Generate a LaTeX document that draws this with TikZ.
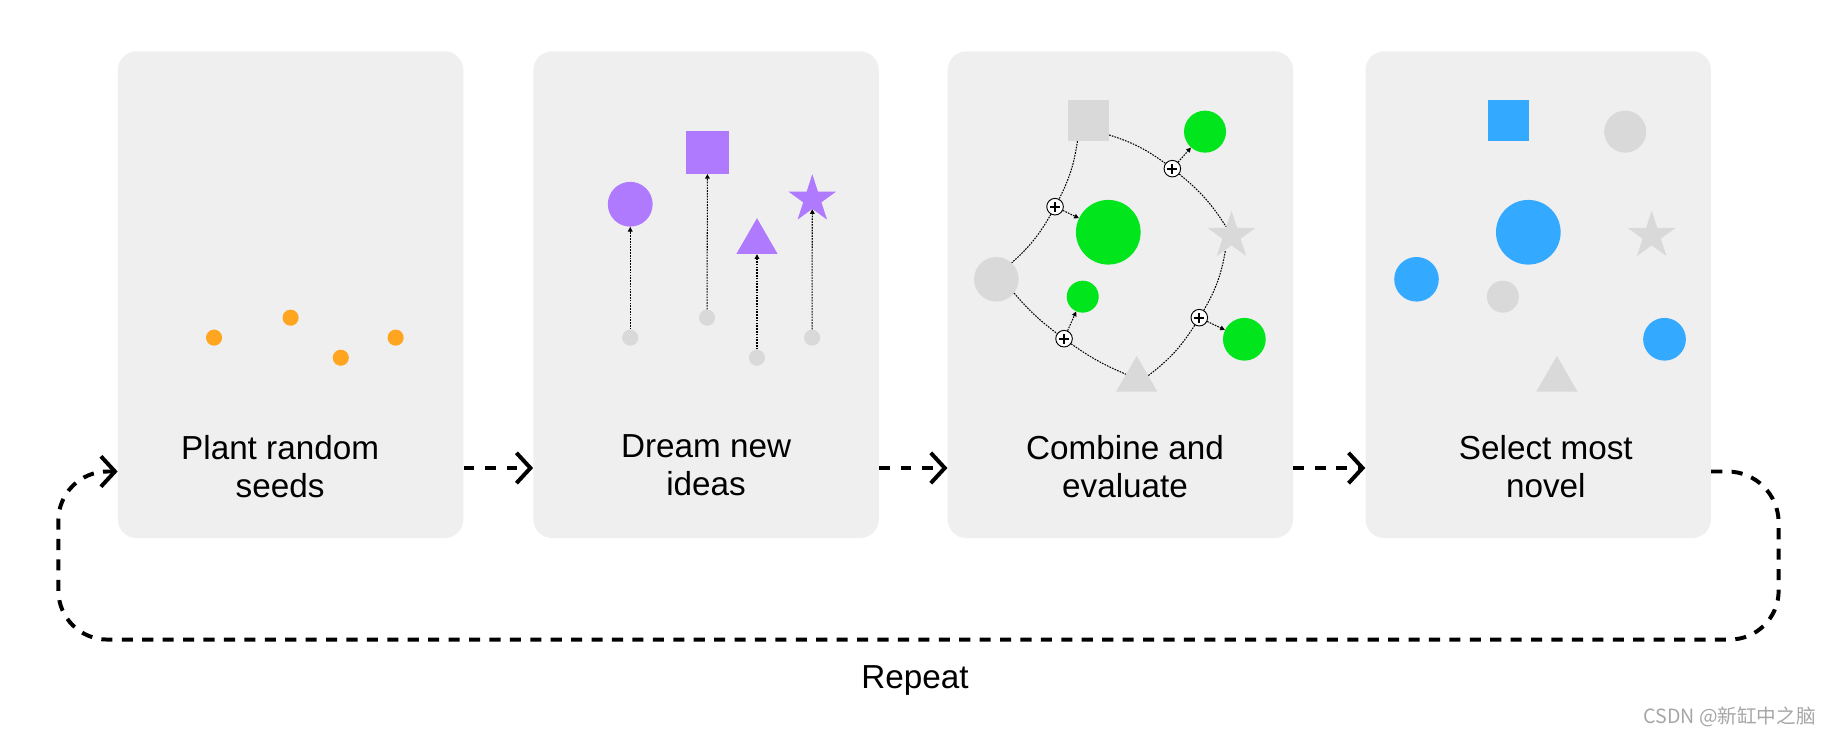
\documentclass[tikz,border=0pt]{standalone}
\usepackage{fontspec}
\setmainfont{Liberation Sans}
\newfontfamily\cjkfont{Noto Sans CJK SC}
\usetikzlibrary{arrows.meta,shapes.geometric}

\definecolor{panelgrey}{HTML}{EFEFEF}
\definecolor{shapegrey}{HTML}{D9D9D9}
\definecolor{seedorange}{HTML}{FFA520}
\definecolor{dreampurple}{HTML}{B07AFF}
\definecolor{keepgreen}{HTML}{00E51B}
\definecolor{novelblue}{HTML}{33AAFF}

\tikzset{
  panel/.style={fill=panelgrey, rounded corners=16pt, minimum width=296pt, minimum height=417pt, inner sep=0pt},
  caption/.style={font=\fontsize{28.5}{32.5}\selectfont, align=center, anchor=north, inner sep=0pt},
  dot/.style={circle, fill=#1, minimum size=13.8pt, inner sep=0pt},
  ball/.style 2 args={circle, fill=#1, minimum size=#2, inner sep=0pt},
  box/.style 2 args={fill=#1, minimum size=#2, inner sep=0pt},
  tri/.style={regular polygon, regular polygon sides=3, fill=#1, minimum size=40.9pt, inner sep=0pt},
  starry/.style={star, star points=5, star point ratio=2.618, fill=#1, minimum size=43pt, inner sep=0pt},
  flow/.style={line width=3.4pt, dash pattern=on 9.2pt off 9.2pt, -{Straight Barb[length=12pt,width=26pt]}},
  loopline/.style={line width=3.4pt, dash pattern=on 9.5pt off 8pt, -{Straight Barb[length=12pt,width=26pt]}},
  link/.style={line width=0.9pt, dash pattern=on 1.4pt off 1pt},
  sprout/.style={link, -{Triangle[length=4pt,width=4pt]}},
  plus/.style={circle, draw, fill=white, line width=0.8pt, minimum size=14.2pt, inner sep=0pt,
    path picture={\draw[line width=1.5pt]
      ([xshift=-4.3pt]path picture bounding box.center) -- ([xshift=4.3pt]path picture bounding box.center)
      ([yshift=-4.3pt]path picture bounding box.center) -- ([yshift=4.3pt]path picture bounding box.center);}}
}

\begin{document}
\begin{tikzpicture}[x=1pt,y=1pt]
  \useasboundingbox (0,0) rectangle (1568,-631);

  % the four stages
  \node[panel] (plant) at (249,-252.5) {};
  \node[panel] (dream) at (605,-252.5) {};
  \node[panel] (combine) at (960,-252.5) {};
  \node[panel] (select) at (1318,-252.5) {};

  \node[caption] (plantText) at (240,-372.5) {Plant random\\seeds};
  \node[caption] (dreamText) at (605,-372.5) {Dream new\\ideas};
  \node[caption] (combineText) at (964,-372.5) {Combine and\\evaluate};
  \node[caption] (selectText) at (1324.5,-372.5) {Select most\\novel};

  % seeds
  \node[dot=seedorange] (s1) at (183.4,-289.3) {};
  \node[dot=seedorange] (s2) at (249,-272.2) {};
  \node[dot=seedorange] (s3) at (292,-306.5) {};
  \node[dot=seedorange] (s4) at (339,-289.3) {};

  % dreamed ideas
  \node[dot=shapegrey] (d1) at (540,-289.3) {};
  \node[dot=shapegrey] (d2) at (605.8,-272.2) {};
  \node[dot=shapegrey] (d3) at (648.6,-306.5) {};
  \node[dot=shapegrey] (d4) at (695.8,-289.3) {};
  \node[ball={dreampurple}{38.4pt}] (ideaCircle) at (540,-175) {};
  \node[box={dreampurple}{36.8pt}] (ideaSquare) at (606.2,-130.5) {};
  \node[tri=dreampurple] (ideaTri) at (648.6,-207.4) {};
  \node[starry=dreampurple] (ideaStar) at (696,-170.8) {};
  \draw[sprout] (d1) -- (ideaCircle);
  \draw[sprout] (d2) -- (ideaSquare);
  \draw[sprout] (d3) -- (ideaTri);
  \draw[sprout] (d4) -- (ideaStar);

  % combine and evaluate
  \node[box={shapegrey}{35.1pt}] (cSquare) at (932.6,-103.2) {};
  \node[ball={shapegrey}{38.2pt}] (cCircle) at (853.7,-239.3) {};
  \node[starry=shapegrey] (cStar) at (1055.2,-202) {};
  \node[tri=shapegrey] (cTri) at (974,-325.4) {};
  \node[ball={keepgreen}{36pt}] (gTop) at (1032.5,-112.8) {};
  \node[ball={keepgreen}{55.4pt}] (gBig) at (949.6,-199) {};
  \node[ball={keepgreen}{27.4pt}] (gSmall) at (927.7,-254.2) {};
  \node[ball={keepgreen}{36.6pt}] (gLow) at (1066.2,-290.7) {};
  \node[plus] (p1) at (904,-177.1) {};
  \node[plus] (p2) at (1004.5,-144.5) {};
  \node[plus] (p3) at (911.7,-290.2) {};
  \node[plus] (p4) at (1027.6,-272.2) {};
  \draw[link] (cSquare.-118) to[bend left=9] (p1);
  \draw[link] (p1) to[bend left=9] (cCircle.47);
  \draw[link] (cSquare.-35) to[bend left=9] (p2);
  \draw[link] (p2) to[bend left=9] (cStar.121);
  \draw[link] (cCircle.-38) to[bend right=6] (p3);
  \draw[link] (p3) to[bend right=6] (cTri.153);
  \draw[link] (cTri.20) to[bend right=10] (p4);
  \draw[link] (p4) to[bend right=10] (cStar.-113);
  \draw[sprout] (p1) -- (gBig);
  \draw[sprout] (p2) -- (gTop);
  \draw[sprout] (p3) -- (gSmall);
  \draw[sprout] (p4) -- (gLow);

  % most novel
  \node[box={novelblue}{35.1pt}] (nSquare) at (1292.6,-103.2) {};
  \node[ball={shapegrey}{36pt}] (nTop) at (1392.5,-112.8) {};
  \node[ball={novelblue}{55.4pt}] (nBig) at (1309.5,-199) {};
  \node[starry=shapegrey] (nStar) at (1415.2,-202) {};
  \node[ball={novelblue}{38.2pt}] (nLeft) at (1213.7,-239.3) {};
  \node[ball={shapegrey}{27.4pt}] (nSmall) at (1287.7,-254.2) {};
  \node[tri=shapegrey] (nTri) at (1334,-325.4) {};
  \node[ball={novelblue}{36.6pt}] (nLow) at (1426.2,-290.7) {};

  % steps
  \draw[flow] ([yshift=-148.5pt]plant.east) -- ([yshift=-148.5pt]dream.west);
  \draw[flow] ([yshift=-148.5pt]dream.east) -- ([yshift=-148.5pt]combine.west);
  \draw[flow] ([yshift=-148.5pt]combine.east) -- ([yshift=-148.5pt]select.west);
  \draw[loopline] ([yshift=-151.5pt]select.east) -- (1480,-404)
    arc[start angle=90, end angle=0, radius=44pt] -- (1524,-506)
    arc[start angle=0, end angle=-90, radius=42pt] -- (92,-548)
    arc[start angle=270, end angle=180, radius=42pt] -- (50,-446)
    arc[start angle=180, end angle=90, radius=42pt] -- ([yshift=-151.5pt]plant.west);
  \node[anchor=base, font=\fontsize{28.5}{32.5}\selectfont] (repeat) at (784,-590) {Repeat};

  \node[anchor=base east, inner sep=0pt, text=gray!70, font=\cjkfont\fontsize{16.8}{19}\selectfont] (mark) at (1556,-620) {CSDN @新缸中之脑};
\end{tikzpicture}
\end{document}
